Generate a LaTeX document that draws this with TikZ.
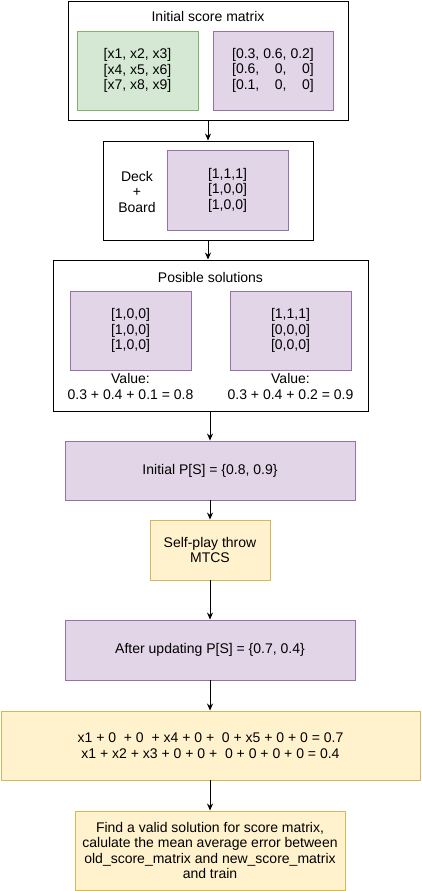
\documentclass[tikz,border=0pt]{standalone}
\usepackage{fontspec}
\setmainfont{Liberation Sans}
\usetikzlibrary{arrows.meta}
\definecolor{gfill}{HTML}{D5E8D4}
\definecolor{gdraw}{HTML}{82B366}
\definecolor{pfill}{HTML}{E1D5E7}
\definecolor{pdraw}{HTML}{9673A6}
\definecolor{yfill}{HTML}{FFF2CC}
\definecolor{ydraw}{HTML}{D6B656}
\begin{document}
\begin{tikzpicture}[x=1pt,y=-1pt,
  every node/.style={font=\fontsize{14}{15.5}\selectfont, align=center, inner sep=0pt},
  outerbox/.style={draw=black, fill=white, line width=0.9pt},
  greenbox/.style={draw=gdraw, fill=gfill, line width=0.9pt},
  purplebox/.style={draw=pdraw, fill=pfill, line width=0.9pt},
  yellowbox/.style={draw=ydraw, fill=yfill, line width=0.9pt},
  conn/.style={draw=black, line width=0.9pt, -{Stealth[length=7pt,width=6pt]}}]
\useasboundingbox (0,0) rectangle (421,891);

% Box 1
\node[outerbox, minimum width=280pt, minimum height=119pt] (b1) at (208,60.5) {};
\node (t1) at (208,16) {Initial score matrix};
\node[greenbox, minimum width=121pt, minimum height=79pt] (g1) at (137.5,70.5)
  {[x1, x2, x3]\\[0pt]{}[x4, x5, x6]\\[0pt]{}[x7, x8, x9]};
\node[purplebox, minimum width=120pt, minimum height=79pt] (p1) at (273,70.5)
  {\begin{tabular}{@{}l@{ }r@{ }r@{}}[0.3, & 0.6, & 0.2]\\{}[0.6, & 0, & 0]\\{}[0.1, & 0, & 0]\end{tabular}};

% Box 2
\node[outerbox, minimum width=210pt, minimum height=99pt] (b2) at (208,190.5) {};
\node (deck) at (137,191.5) {Deck\\+\\Board};
\node[purplebox, minimum width=121pt, minimum height=80pt] (p2) at (227.5,190)
  {[1,1,1]\\[0pt]{}[1,0,0]\\[0pt]{}[1,0,0]};

% Box 3
\node[outerbox, minimum width=315pt, minimum height=151pt] (b3) at (210.5,335.5) {};
\node (t3) at (210.5,277) {Posible solutions};
\node[purplebox, minimum width=121pt, minimum height=79pt] (p3a) at (130.5,330.5)
  {[1,0,0]\\[0pt]{}[1,0,0]\\[0pt]{}[1,0,0]};
\node[purplebox, minimum width=121pt, minimum height=79pt] (p3b) at (290.5,330.5)
  {[1,1,1]\\[0pt]{}[0,0,0]\\[0pt]{}[0,0,0]};
\node (va) at (130.5,386.5) {Value:\\0.3 + 0.4 + 0.1 = 0.8};
\node (vb) at (290.5,386.5) {Value:\\0.3 + 0.4 + 0.2 = 0.9};

% Flow
\node[purplebox, minimum width=290pt, minimum height=59pt] (ps) at (210,470.5) {Initial P[S] = \{0.8, 0.9\}};
\node[yellowbox, minimum width=120pt, minimum height=60pt] (sp) at (210,550) {Self-play throw\\MTCS};
\node[purplebox, minimum width=290pt, minimum height=60pt] (au) at (210,650) {After updating P[S] = \{0.7, 0.4\}};
\node[yellowbox, minimum width=419pt, minimum height=69pt] (eq) at (210.5,745.5)
  {x1 + 0 \ + 0 \ + x4 + 0 + \ 0 + x5 + 0 + 0 = 0.7\\x1 + x2 + x3 + 0 + 0 + \ 0 + 0 + 0 + 0 = 0.4};
\node[yellowbox, minimum width=270pt, minimum height=79pt] (fin) at (210,850.5)
  {Find a valid solution for score matrix,\\calulate the mean average error between\\old\_score\_matrix and new\_score\_matrix\\and train};

% Connectors
\draw[conn] (b1.south) -- (b2.north);
\draw[conn] (b2.south) -- (b2.south |- b3.north);
\draw[conn] (ps.north |- b3.south) -- (ps.north);
\draw[conn] (ps.south) -- (sp.north);
\draw[conn] (sp.south) -- (au.north);
\draw[conn] (au.south) -- (au.south |- eq.north);
\draw[conn] (fin.north |- eq.south) -- (fin.north);
\end{tikzpicture}
\end{document}
